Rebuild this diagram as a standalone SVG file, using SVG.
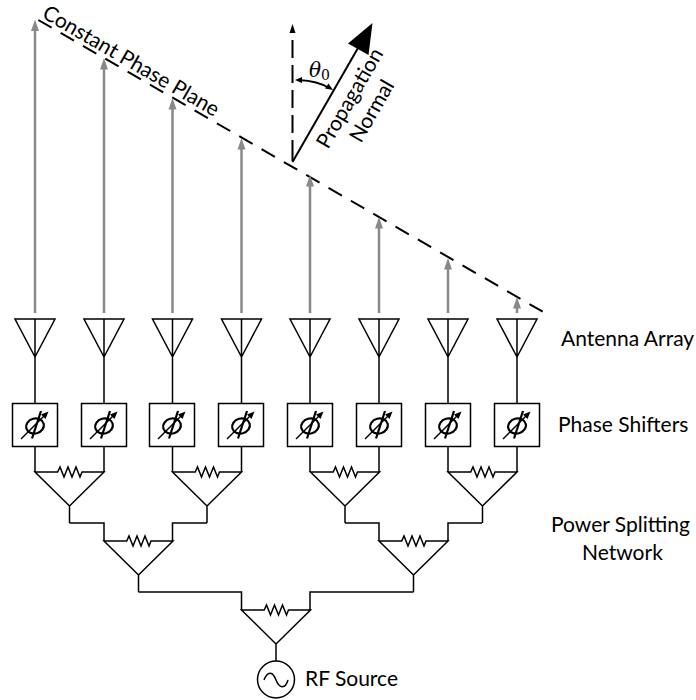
<svg xmlns="http://www.w3.org/2000/svg" width="696" height="700" viewBox="0 0 696 700">
<style>
.l{fill:none;stroke:#000;stroke-width:1.5;stroke-linejoin:miter}
.g{fill:none;stroke:#898989;stroke-width:2.5}
.gh{fill:#898989;stroke:none}
.d{fill:none;stroke:#000;stroke-width:2;stroke-dasharray:15.4 10.39}
.v{fill:none;stroke:#000;stroke-width:2}
.t{font-family:"Lato","Liberation Sans",sans-serif;font-size:21px;fill:#000}
.box{fill:#fff;stroke:#000;stroke-width:1.5}
</style>
<defs>
<g id="ant"><path class="l" d="M-20 319H20L0 357ZM0 319V403"/></g>
<g id="ps">
<rect class="box" x="-22.500" y="403.500" width="45" height="43"/>
<ellipse cx="0" cy="426" rx="9" ry="7.500" fill="none" stroke="#000" stroke-width="2.200" transform="rotate(-15 0 426)"/>
<path d="M-3 438.500L6 411" fill="none" stroke="#000" stroke-width="2.200"/>
<path d="M-14 439L10 415" fill="none" stroke="#000" stroke-width="1.500"/>
<path d="M13.500 411.500L10.500 419L6 414.500Z" fill="#000"/>
</g>
<g id="spl"><path class="l" d="M0 0H22.700L25 -5L29 5L33 -5L37 5L41 -5L45 5L47 0H69L34.500 34ZM34.500 34V51"/></g>
</defs>
<g id="connectors">
<path class="d" d="M38.300 20L542.700 311.700"/>
<path class="v" d="M292.500 161V140M292.500 133V115M292.500 108V90M292.500 83V65M292.500 58V40"/>
<path d="M292.500 24L295.500 33H289.500Z" fill="#000"/>
<path d="M292.500 162L358 48" fill="none" stroke="#000" stroke-width="2"/>
<path d="M372.500 23L368.500 55L348 43.500Z" fill="#000"/>
<path d="M299 80Q318 81 329 88" fill="none" stroke="#000" stroke-width="1.800"/>
<path d="M295 80L302 77V83Z" fill="#000"/>
<path d="M333 90L325 88.500L328.500 83.500Z" fill="#000"/>
<g id="beams">
<path class="g" d="M35 313V30M104 313V68M172.500 313V108M241.500 313V148M310 313V186M379 313V228M448 313V268M517 313V308"/>
<path class="gh" d="M35 19.500L39 31H31ZM104 58L108 69.500H100ZM172.500 98L176.500 109.500H168.500ZM241.500 138L245.500 149.500H237.500ZM310 175L314 186.500H306ZM379 217L383 228.500H375ZM448 258L452 269.500H444ZM517 297L521 308.500H513Z"/>
</g>
<path class="l" d="M35 446V472M104 446V472M172.500 446V472M241.500 446V472M310 446V472M379 446V472M448 446V472M517 446V472"/>
<path class="l" d="M69.500 523H104V541M207 523H172.500V541M345 523H379V541M482 523H448V541"/>
<path class="l" d="M138.500 592H241.500V610M413.500 592H310V610"/>
</g>
<g id="antenna-array">
<use href="#ant" x="35"/><use href="#ant" x="104"/><use href="#ant" x="172.500"/><use href="#ant" x="241.500"/><use href="#ant" x="310"/><use href="#ant" x="379"/><use href="#ant" x="448"/><use href="#ant" x="517"/>
</g>
<g id="phase-shifters">
<use href="#ps" x="35"/><use href="#ps" x="104"/><use href="#ps" x="172"/><use href="#ps" x="241"/><use href="#ps" x="310"/><use href="#ps" x="379"/><use href="#ps" x="448"/><use href="#ps" x="517"/>
</g>
<g id="splitters">
<use href="#spl" x="35" y="472"/><use href="#spl" x="172.500" y="472"/><use href="#spl" x="310.500" y="472"/><use href="#spl" x="448" y="472"/>
<use href="#spl" x="104" y="541"/><use href="#spl" x="379" y="541"/>
<use href="#spl" x="241.500" y="610"/>
</g>
<g id="rf-source">
<circle class="l" cx="276" cy="679.500" r="18.500"/>
<path class="l" d="M264 680C268 670 273 672 276 680S285 690 288 680"/>
<text class="t" x="305" y="686">RF Source</text>
</g>
<g id="labels">
<text class="t" x="561" y="346">Antenna Array</text>
<text class="t" x="558" y="432">Phase Shifters</text>
<text class="t" x="551" y="532">Power Splitting</text>
<text class="t" x="582" y="560">Network</text>
<text class="t" transform="translate(41 17) rotate(30)">Constant Phase Plane</text>
<text class="t" transform="translate(328 150) rotate(-60)">Propagation</text>
<text class="t" transform="translate(361 144) rotate(-60)">Normal</text>
<text x="309" y="77" font-family="DejaVu Serif,serif" font-style="italic" font-size="20">θ<tspan font-style="normal" font-size="14" dy="3">0</tspan></text>
</g>
</svg>
